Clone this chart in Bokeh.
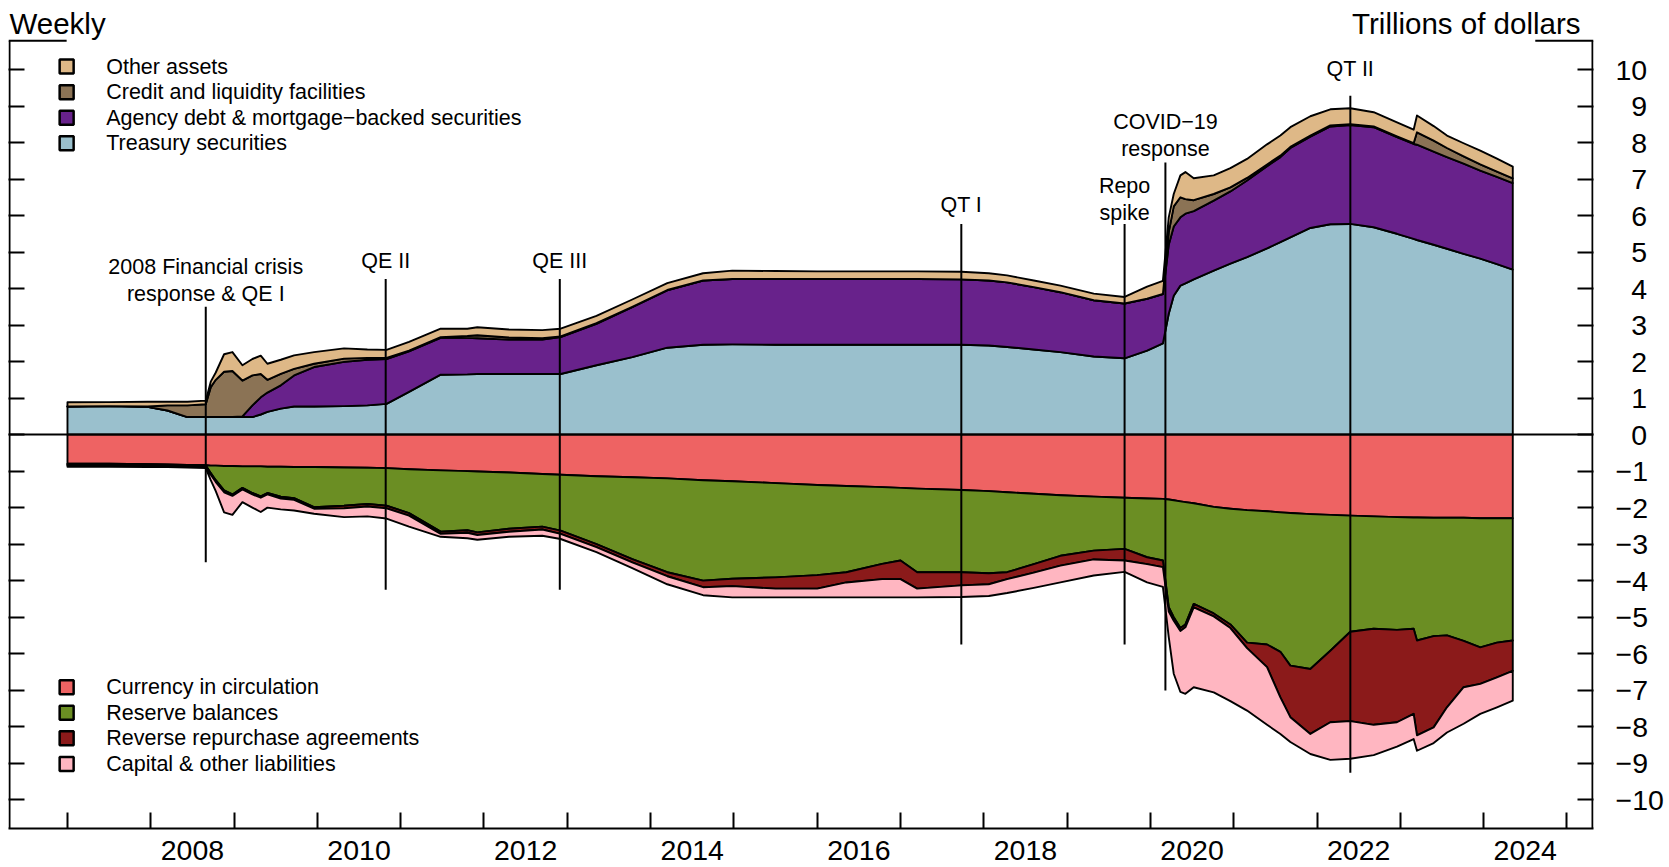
import numpy as np
from bokeh.plotting import figure
from bokeh.models import FixedTicker, LinearAxis, Range1d, Span
from bokeh.core.properties import value
from bokeh.embed import file_html
from bokeh.resources import INLINE

FONT = "Liberation Sans"

# ---------------- data (trillions of dollars) ----------------
dates = [2007.00, 2007.50, 2007.96, 2008.20, 2008.44, 2008.66, 2008.72, 2008.78, 2008.88, 2008.98,
         2009.10, 2009.22, 2009.32, 2009.40, 2009.56, 2009.72, 2009.96, 2010.32, 2010.60, 2010.83,
         2011.10, 2011.48, 2011.80, 2011.92, 2012.30, 2012.70, 2012.92, 2013.35, 2013.78, 2014.20,
         2014.63, 2014.98, 2015.50, 2016.00, 2016.35, 2016.78, 2017.00, 2017.20, 2017.73, 2018.06,
         2018.28, 2018.60, 2018.92, 2019.32, 2019.69, 2019.96, 2020.15, 2020.22, 2020.28, 2020.36,
         2020.42, 2020.52, 2020.76, 2020.96, 2021.16, 2021.40, 2021.56, 2021.68, 2021.92, 2022.16,
         2022.40, 2022.68, 2022.96, 2023.16, 2023.20, 2023.40, 2023.56, 2023.76, 2023.96, 2024.16,
         2024.35]

# assets
treasury = [0.77, 0.78, 0.76, 0.66, 0.48, 0.48, 0.48, 0.48, 0.48, 0.48,
            0.48, 0.48, 0.55, 0.62, 0.71, 0.77, 0.77, 0.78, 0.80, 0.84,
            1.17, 1.64, 1.65, 1.66, 1.66, 1.66, 1.66, 1.90, 2.12, 2.38,
            2.46, 2.47, 2.46, 2.46, 2.46, 2.46, 2.46, 2.46, 2.46, 2.44,
            2.40, 2.33, 2.26, 2.14, 2.09, 2.30, 2.50, 3.31, 3.80, 4.08,
            4.14, 4.25, 4.49, 4.68, 4.86, 5.10, 5.27, 5.40, 5.66, 5.76,
            5.77, 5.68, 5.50, 5.36, 5.33, 5.20, 5.09, 4.95, 4.82, 4.67,
            4.52]
agency = [0.00, 0.00, 0.00, 0.00, 0.00, 0.00, 0.00, 0.00, 0.00, 0.00,
          0.02, 0.32, 0.47, 0.53, 0.64, 0.85, 1.08, 1.21, 1.25, 1.23,
          1.11, 1.01, 1.00, 0.98, 0.94, 0.94, 1.01, 1.13, 1.37, 1.57,
          1.76, 1.79, 1.80, 1.80, 1.80, 1.80, 1.80, 1.80, 1.79, 1.78,
          1.77, 1.71, 1.64, 1.54, 1.50, 1.42, 1.35, 1.89, 1.90, 1.87,
          1.91, 1.87, 1.92, 1.98, 2.10, 2.25, 2.33, 2.45, 2.50, 2.68,
          2.71, 2.74, 2.65, 2.60, 2.61, 2.55, 2.51, 2.47, 2.41, 2.39,
          2.37]
credit = [0.00, 0.00, 0.01, 0.14, 0.32, 0.35, 0.82, 1.02, 1.24, 1.26,
          0.98, 0.82, 0.64, 0.35, 0.31, 0.18, 0.09, 0.09, 0.05, 0.03,
          0.02, 0.02, 0.05, 0.08, 0.06, 0.04, 0.02, 0.02, 0.01, 0.01,
          0.00, 0.00, 0.00, 0.00, 0.00, 0.00, 0.00, 0.00, 0.00, 0.00,
          0.00, 0.00, 0.00, 0.00, 0.00, 0.00, 0.00, 0.35, 0.55, 0.55,
          0.40, 0.30, 0.18, 0.11, 0.07, 0.05, 0.04, 0.03, 0.03, 0.03,
          0.02, 0.02, 0.02, 0.02, 0.34, 0.30, 0.25, 0.20, 0.17, 0.14,
          0.13]
other = [0.115, 0.11, 0.13, 0.10, 0.10, 0.10, 0.15, 0.20, 0.48, 0.52,
         0.42, 0.45, 0.50, 0.44, 0.39, 0.37, 0.32, 0.28, 0.23, 0.22,
         0.24, 0.23, 0.20, 0.22, 0.22, 0.22, 0.21, 0.20, 0.20, 0.19,
         0.20, 0.23, 0.22, 0.21, 0.21, 0.21, 0.21, 0.21, 0.21, 0.20,
         0.19, 0.18, 0.18, 0.18, 0.18, 0.33, 0.36, 0.40, 0.34, 0.60,
         0.74, 0.60, 0.51, 0.53, 0.52, 0.55, 0.55, 0.54, 0.53, 0.44,
         0.44, 0.39, 0.38, 0.37, 0.46, 0.40, 0.34, 0.36, 0.38, 0.36,
         0.32]

# liabilities (magnitudes, plotted below zero)
currency = [0.80, 0.80, 0.81, 0.82, 0.83, 0.84, 0.85, 0.85, 0.86, 0.86,
            0.87, 0.87, 0.87, 0.88, 0.88, 0.89, 0.89, 0.90, 0.91, 0.92,
            0.95, 0.98, 1.00, 1.01, 1.04, 1.08, 1.10, 1.14, 1.17, 1.20,
            1.25, 1.28, 1.33, 1.38, 1.41, 1.44, 1.46, 1.48, 1.52, 1.55,
            1.58, 1.62, 1.66, 1.70, 1.73, 1.75, 1.76, 1.78, 1.80, 1.83,
            1.85, 1.88, 1.98, 2.03, 2.07, 2.10, 2.13, 2.15, 2.18, 2.20,
            2.22, 2.24, 2.26, 2.27, 2.27, 2.28, 2.28, 2.28, 2.29, 2.29,
            2.29]
reserves = [0.01, 0.01, 0.01, 0.01, 0.01, 0.01, 0.20, 0.40, 0.67, 0.78,
            0.59, 0.73, 0.82, 0.72, 0.82, 0.85, 1.10, 1.05, 0.99, 1.03,
            1.20, 1.68, 1.62, 1.67, 1.54, 1.44, 1.53, 1.86, 2.24, 2.57,
            2.75, 2.67, 2.58, 2.47, 2.36, 2.10, 1.99, 2.29, 2.25, 2.25,
            2.19, 1.93, 1.66, 1.48, 1.40, 1.61, 1.69, 2.95, 3.20, 3.47,
            3.35, 2.76, 2.92, 3.17, 3.63, 3.65, 3.82, 4.18, 4.24, 3.72,
            3.18, 3.08, 3.09, 3.05, 3.37, 3.24, 3.22, 3.37, 3.54, 3.41,
            3.35]
reverse_repo = [0.03, 0.03, 0.03, 0.03, 0.02, 0.03, 0.05, 0.05, 0.05, 0.04,
                0.04, 0.04, 0.04, 0.04, 0.05, 0.05, 0.04, 0.07, 0.07, 0.07,
                0.07, 0.06, 0.07, 0.07, 0.08, 0.08, 0.09, 0.08, 0.09, 0.11,
                0.18, 0.20, 0.31, 0.37, 0.28, 0.42, 0.51, 0.45, 0.36, 0.30,
                0.19, 0.23, 0.27, 0.24, 0.32, 0.19, 0.18, 0.12, 0.10, 0.08,
                0.08, 0.09, 0.08, 0.10, 0.15, 0.62, 1.25, 1.41, 1.78, 1.96,
                2.45, 2.63, 2.53, 2.33, 2.60, 2.50, 1.97, 1.27, 1.00, 0.95,
                0.83]
capital = [0.04, 0.04, 0.04, 0.03, 0.04, 0.04, 0.15, 0.25, 0.55, 0.52,
           0.35, 0.36, 0.39, 0.36, 0.30, 0.29, 0.14, 0.24, 0.27, 0.28,
           0.30, 0.08, 0.15, 0.13, 0.14, 0.17, 0.14, 0.14, 0.16, 0.22,
           0.22, 0.31, 0.24, 0.24, 0.41, 0.50, 0.50, 0.24, 0.32, 0.32,
           0.38, 0.42, 0.46, 0.44, 0.31, 0.50, 0.54, 0.70, 1.45, 1.67,
           1.82, 2.19, 2.08, 2.00, 1.71, 1.58, 1.00, 0.68, 0.55, 1.03,
           1.03, 0.83, 0.67, 0.69, 0.42, 0.43, 0.69, 1.00, 0.82, 0.82,
           0.82]

asset_names = ["Treasury securities", "Agency debt & mortgage\u2212backed securities",
               "Credit and liquidity facilities", "Other assets"]
asset_colors = ["#9AC0CD", "#68228B", "#8B7355", "#DEB887"]
liab_names = ["Currency in circulation", "Reserve balances",
              "Reverse repurchase agreements", "Capital & other liabilities"]
liab_colors = ["#EE6363", "#6B8E23", "#8B1A1A", "#FFB6C1"]

# event annotations
event_x = [2008.66, 2010.82, 2012.91, 2017.73, 2019.69, 2020.18, 2022.40]
event_top = [3.50, 4.26, 4.26, 5.77, 5.77, 7.45, 9.28]
event_bottom = [-3.50, -4.25, -4.25, -5.75, -5.75, -7.01, -9.26]
event_text = ["2008 Financial crisis", "response & QE I", "QE II", "QE III", "QT I",
              "Repo", "spike", "COVID\u221219", "response", "QT II"]
event_text_x = [2008.66, 2008.66, 2010.82, 2012.91, 2017.73, 2019.69, 2019.69, 2020.18, 2020.18, 2022.40]
event_text_y = [4.58, 3.84, 4.76, 4.76, 6.30, 6.80, 6.07, 8.55, 7.81, 10.01]

x_minor_ticks = list(range(2007, 2026))
x_label_years = list(range(2008, 2025, 2))
y_ticks = list(range(-10, 11))


def y_label(t):
    if t < 0:
        return "\u2212%d" % -t
    if t < 10:
        return "\u2007" + str(t)   # figure space keeps single digits centred in the column
    return str(t)


# ---------------- figure ----------------
X0, X1 = 2006.292, 2025.319      # plot box left / right spines
YB, YT = -10.79, 10.79           # plot box bottom / top
Y_TOP = 11.89                    # frame top (room for the titles)

p = figure(width=1669, height=866,
           x_range=Range1d(X0, X1), y_range=Range1d(YB, Y_TOP),
           output_backend="svg", toolbar_location=None,
           x_axis_location=None, y_axis_location=None,
           min_border_left=8, min_border_right=76, min_border_top=0, min_border_bottom=38)
p.outline_line_color = None
p.xgrid.grid_line_color = None
p.ygrid.grid_line_color = None
p.background_fill_color = "white"
p.border_fill_color = "white"

x = np.array(dates, dtype=float)
xs_poly = np.concatenate([x, x[::-1]])

base = np.zeros_like(x)
for vals, col in zip([treasury, agency, credit, other], asset_colors):
    top = base + np.array(vals, dtype=float)
    p.patch(xs_poly, np.concatenate([top, base[::-1]]), fill_color=col,
            line_color="black", line_width=1.9, line_join="round")
    base = top

base = np.zeros_like(x)
for vals, col in zip([currency, reserves, reverse_repo, capital], liab_colors):
    bot = base - np.array(vals, dtype=float)
    p.patch(xs_poly, np.concatenate([base, bot[::-1]]), fill_color=col,
            line_color="black", line_width=1.9, line_join="round")
    base = bot

p.add_layout(Span(location=0, dimension="width", line_color="black", line_width=2))

p.segment(x0=event_x, y0=event_top, x1=event_x, y1=event_bottom, line_color="black", line_width=2)
p.text(x=event_text_x, y=event_text_y, text=event_text, text_font=value(FONT),
       text_font_size="21.5px", text_align="center", text_baseline="middle", text_color="black")

# legends
top_rows = [10.08, 9.38, 8.68, 7.98]
bot_rows = [-6.92, -7.62, -8.32, -9.02]
leg_names = [asset_names[3], asset_names[2], asset_names[1], asset_names[0]] + liab_names
leg_cols = [asset_colors[3], asset_colors[2], asset_colors[1], asset_colors[0]] + liab_colors
leg_y = top_rows + bot_rows
p.scatter(x=[2006.99] * 8, y=leg_y, marker="square", size=14, fill_color=leg_cols,
          line_color="black", line_width=2.5)
p.text(x=[2007.465] * 8, y=leg_y, text=leg_names, text_font=value(FONT), text_font_size="21.5px",
       text_align="left", text_baseline="middle", text_color="black")

# plot box: left / right spines and the short top pieces
px = 1.0 / 83.3
p.segment(x0=[X0 + px, X1 - px, X0, 2024.62], y0=[YB, YB, YT, YT],
          x1=[X0 + px, X1 - px, 2006.99, X1], y1=[YT, YT, YT, YT],
          line_color="black", line_width=2)

# titles
p.text(x=[X0 + px], y=[11.27], text=["Weekly"], text_font=value(FONT), text_font_size="29.5px",
       text_align="left", text_baseline="alphabetic", text_color="black")
p.text(x=[2025.163], y=[11.27], text=["Trillions of dollars"], text_font=value(FONT),
       text_font_size="29.5px", text_align="right", text_baseline="alphabetic", text_color="black")

# axes
xaxis = LinearAxis(ticker=FixedTicker(ticks=[yr + 0.5 for yr in x_label_years], minor_ticks=x_minor_ticks),
                   major_label_overrides={yr + 0.5: str(yr) for yr in x_label_years})
xaxis.axis_line_width = 2
xaxis.major_tick_line_color = None
xaxis.major_tick_in = 0
xaxis.major_tick_out = 0
xaxis.minor_tick_line_color = "black"
xaxis.minor_tick_line_width = 2
xaxis.minor_tick_in = 16
xaxis.minor_tick_out = 0
xaxis.major_label_standoff = 12
xaxis.major_label_text_font = FONT
xaxis.major_label_text_font_size = "28.5px"
xaxis.major_label_text_color = "black"
p.add_layout(xaxis, "below")

laxis = LinearAxis(ticker=FixedTicker(ticks=y_ticks, minor_ticks=[]),
                   major_label_overrides={t: "" for t in y_ticks})
laxis.axis_line_color = None
laxis.major_tick_line_width = 2
laxis.major_tick_in = 16
laxis.major_tick_out = 0
laxis.minor_tick_line_color = None
laxis.major_label_standoff = 0
laxis.major_label_text_font_size = "1px"
p.add_layout(laxis, "left")

raxis = LinearAxis(ticker=FixedTicker(ticks=y_ticks, minor_ticks=[]),
                   major_label_overrides={t: y_label(t) for t in y_ticks})
raxis.axis_line_color = None
raxis.major_tick_line_width = 2
raxis.major_tick_in = 16
raxis.major_tick_out = 0
raxis.minor_tick_line_color = None
raxis.major_label_standoff = 22
raxis.major_label_text_font = FONT
raxis.major_label_text_font_size = "28.5px"
raxis.major_label_text_color = "black"
p.add_layout(raxis, "right")

open("out.html", "w").write(file_html(p, INLINE))
